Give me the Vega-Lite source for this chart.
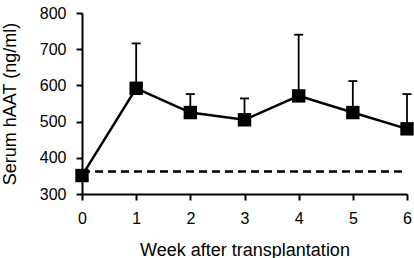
{
  "$schema": "https://vega.github.io/schema/vega-lite/v6.json",
  "width": 325,
  "height": 181,
  "autosize": {"type": "none"},
  "padding": {"left": 82, "top": 13, "right": 7, "bottom": 64},
  "config": {
    "view": {"stroke": null},
    "font": "Liberation Sans",
    "axis": {
      "grid": false,
      "domainColor": "black",
      "domainWidth": 2,
      "tickColor": "black",
      "tickWidth": 2,
      "tickSize": 6,
      "labelColor": "black",
      "labelFontSize": 16,
      "labelFont": "Liberation Sans",
      "labelOverlap": false,
      "labelBound": false,
      "labelFlush": false,
      "titleColor": "black",
      "titleFontSize": 18,
      "titleFont": "Liberation Sans",
      "titleFontWeight": "normal"
    }
  },
  "datasets": {
    "main": [
      {"week": 0, "mean": 351, "upper": 351},
      {"week": 1, "mean": 592, "upper": 716},
      {"week": 2, "mean": 525, "upper": 576},
      {"week": 3, "mean": 505, "upper": 564},
      {"week": 4, "mean": 571, "upper": 740},
      {"week": 5, "mean": 525, "upper": 612},
      {"week": 6, "mean": 480, "upper": 576}
    ],
    "baseline": [
      {"week": 0, "mean": 362},
      {"week": 6, "mean": 362}
    ]
  },
  "encoding": {
    "x": {
      "field": "week", "type": "quantitative",
      "scale": {"domain": [0, 6], "nice": false, "zero": false},
      "axis": {"values": [0, 1, 2, 3, 4, 5, 6], "tickCount": 7, "title": "Week after transplantation", "labelPadding": 10, "titlePadding": 15, "format": "d"}
    },
    "y": {
      "field": "mean", "type": "quantitative",
      "scale": {"domain": [300, 800], "nice": false, "zero": false},
      "axis": {"values": [300, 400, 500, 600, 700, 800], "tickCount": 6, "title": "Serum hAAT (ng/ml)", "labelPadding": 10, "titlePadding": 20}
    }
  },
  "layer": [
    {
      "data": {"name": "baseline"},
      "mark": {"type": "line", "color": "black", "strokeWidth": 2.5, "strokeDash": [8, 5]}
    },
    {
      "data": {"name": "main"},
      "transform": [{"filter": "datum.week > 0"}],
      "mark": {"type": "rule", "color": "black", "strokeWidth": 1.8},
      "encoding": {
        "y2": {"field": "upper"}
      }
    },
    {
      "data": {"name": "main"},
      "transform": [{"filter": "datum.week > 0"}],
      "mark": {"type": "tick", "orient": "horizontal", "color": "black", "size": 9, "thickness": 1.8, "opacity": 1},
      "encoding": {
        "y": {"field": "upper", "type": "quantitative"}
      }
    },
    {
      "data": {"name": "main"},
      "mark": {"type": "line", "color": "black", "strokeWidth": 2.5}
    },
    {
      "data": {"name": "main"},
      "mark": {"type": "square", "color": "black", "size": 180, "opacity": 1, "filled": true}
    }
  ]
}
